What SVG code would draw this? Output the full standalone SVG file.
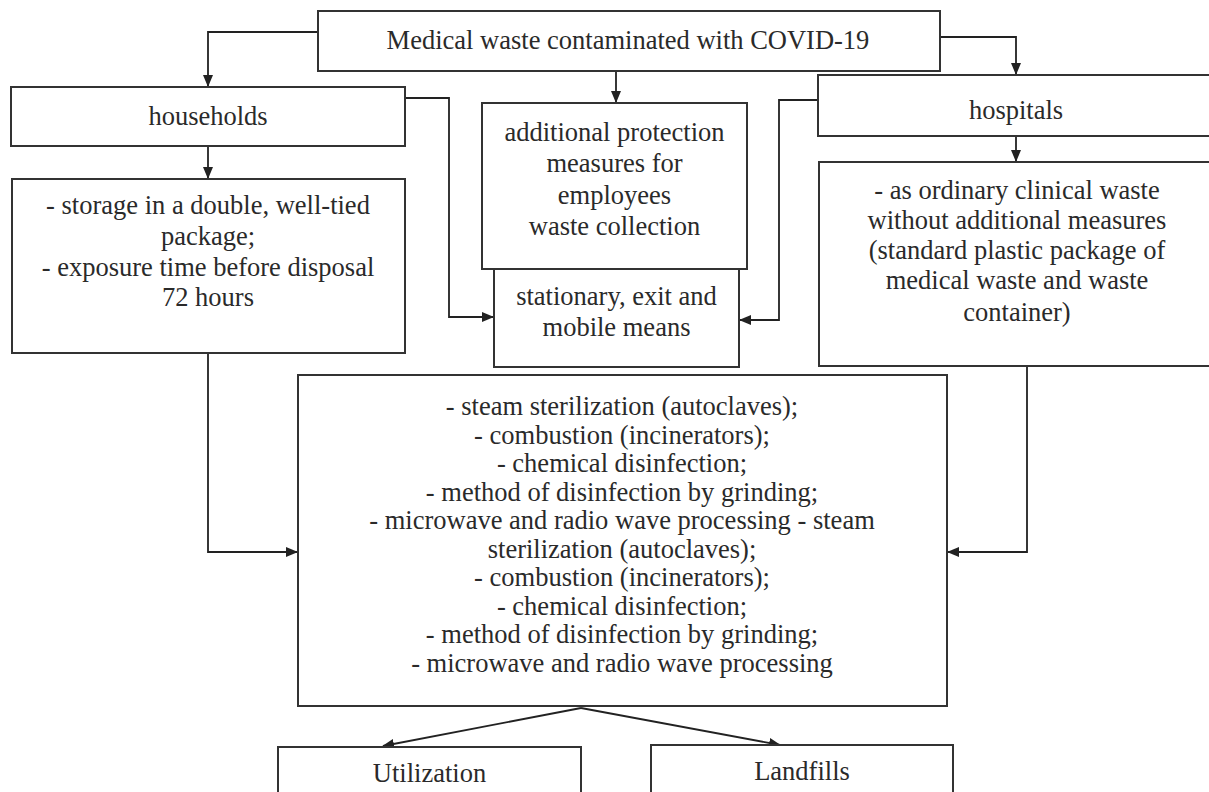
<svg xmlns="http://www.w3.org/2000/svg" width="1209" height="792" viewBox="0 0 1209 792">
<style>
.box{fill:#fff;stroke:#333;stroke-width:2}
.t{font-family:"Liberation Serif","Times New Roman",serif;font-size:26.5px;fill:#2a2a2a;text-anchor:middle}
.c{fill:none;stroke:#222;stroke-width:1.8}
</style>
<defs>
<marker id="ah" markerWidth="12" markerHeight="10" refX="11" refY="5" orient="auto" markerUnits="userSpaceOnUse">
<path d="M0,0 L12,5 L0,10 Z" fill="#222"/>
</marker>
</defs>
<rect width="1209" height="792" fill="#fff"/>
<g id="connectors">
<polyline class="c" points="318,32 208,32 208,86" marker-end="url(#ah)"/>
<polyline class="c" points="940,37 1016,37 1016,74" marker-end="url(#ah)"/>
<line class="c" x1="616" y1="71" x2="616" y2="102" marker-end="url(#ah)"/>
<line class="c" x1="208" y1="146" x2="208" y2="178" marker-end="url(#ah)"/>
<line class="c" x1="1016" y1="136" x2="1016" y2="161" marker-end="url(#ah)"/>
<polyline class="c" points="405,98 449,98 449,317 493,317" marker-end="url(#ah)"/>
<polyline class="c" points="818,100 779,100 779,320 740,320" marker-end="url(#ah)"/>
<polyline class="c" points="208,353 208,552 297,552" marker-end="url(#ah)"/>
<polyline class="c" points="1027,366 1027,552 948,552" marker-end="url(#ah)"/>
<line class="c" x1="581" y1="708" x2="383" y2="746" marker-end="url(#ah)"/>
<line class="c" x1="581" y1="708" x2="780" y2="745" marker-end="url(#ah)"/>
</g>
<g id="top">
<rect class="box" x="318" y="11" width="622" height="60"/>
<text class="t" x="628" y="49">Medical waste contaminated with COVID-19</text>
</g>
<g id="households">
<rect class="box" x="11" y="87" width="394" height="59"/>
<text class="t" x="208" y="125">households</text>
</g>
<g id="hospitals">
<rect class="box" x="818" y="75" width="400" height="61"/>
<text class="t" x="1016" y="119">hospitals</text>
</g>
<g id="protection">
<rect class="box" x="482" y="103" width="265" height="166"/>
<text class="t" x="614.5" y="141">additional protection</text>
<text class="t" x="614.5" y="172">measures for</text>
<text class="t" x="614.5" y="204">employees</text>
<text class="t" x="614.5" y="235">waste collection</text>
</g>
<g id="means">
<rect class="box" x="494" y="269" width="245" height="98"/>
<text class="t" x="616.5" y="305">stationary, exit and</text>
<text class="t" x="616.5" y="336">mobile means</text>
</g>
<g id="storage">
<rect class="box" x="12" y="179" width="393" height="174"/>
<text class="t" x="208" y="214">- storage in a double, well-tied</text>
<text class="t" x="208" y="245">package;</text>
<text class="t" x="208" y="276">- exposure time before disposal</text>
<text class="t" x="208" y="306">72 hours</text>
</g>
<g id="clinical">
<rect class="box" x="819" y="162" width="400" height="204"/>
<text class="t" x="1017" y="199">- as ordinary clinical waste</text>
<text class="t" x="1017" y="229">without additional measures</text>
<text class="t" x="1017" y="259">(standard plastic package of</text>
<text class="t" x="1017" y="289">medical waste and waste</text>
<text class="t" x="1017" y="321">container)</text>
</g>
<g id="methods">
<rect class="box" x="298" y="375" width="649" height="331"/>
<text class="t" x="622" y="415">- steam sterilization (autoclaves);</text>
<text class="t" x="622" y="443.5">- combustion (incinerators);</text>
<text class="t" x="622" y="472">- chemical disinfection;</text>
<text class="t" x="622" y="500.5">- method of disinfection by grinding;</text>
<text class="t" x="622" y="529">- microwave and radio wave processing - steam</text>
<text class="t" x="622" y="557.5">sterilization (autoclaves);</text>
<text class="t" x="622" y="586">- combustion (incinerators);</text>
<text class="t" x="622" y="614.5">- chemical disinfection;</text>
<text class="t" x="622" y="643">- method of disinfection by grinding;</text>
<text class="t" x="622" y="671.5">- microwave and radio wave processing</text>
</g>
<g id="utilization">
<rect class="box" x="278" y="747" width="303" height="60"/>
<text class="t" x="429.5" y="782">Utilization</text>
</g>
<g id="landfills">
<rect class="box" x="651" y="745" width="302" height="60"/>
<text class="t" x="802" y="780">Landfills</text>
</g>
</svg>
